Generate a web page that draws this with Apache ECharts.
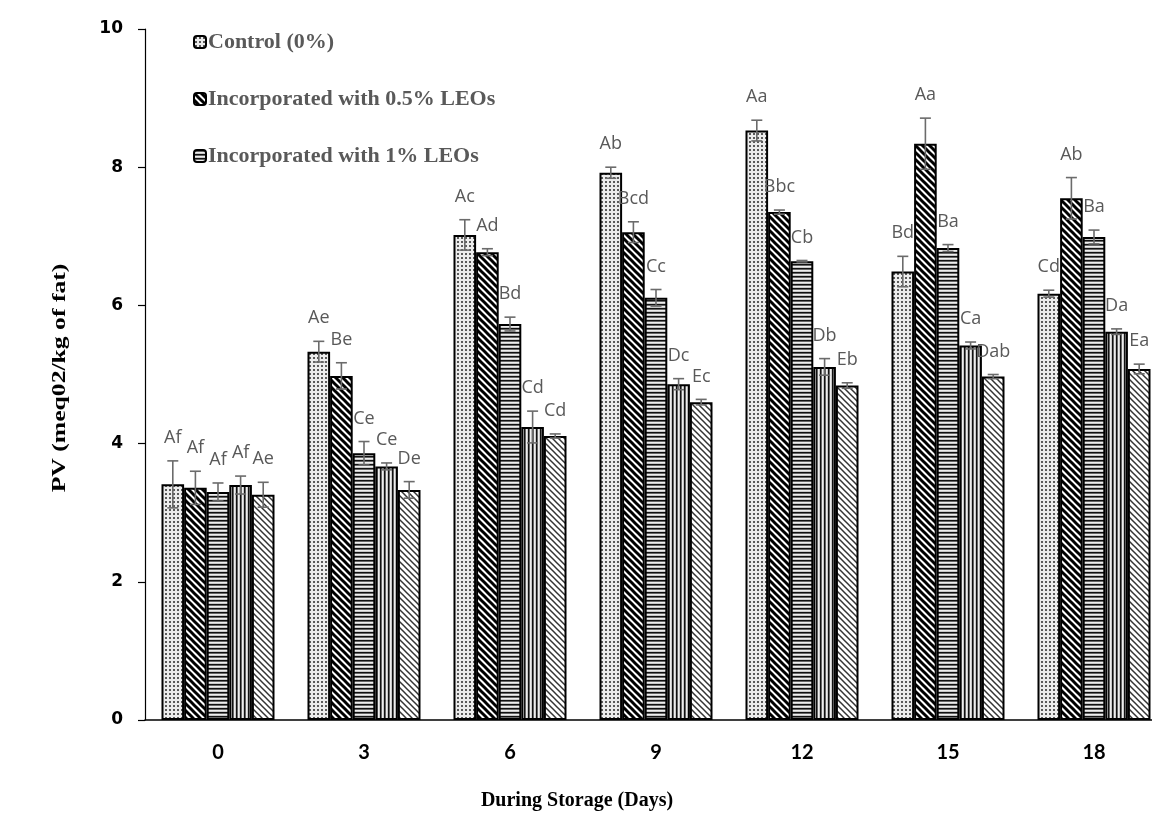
<!DOCTYPE html>
<html>
<head>
<meta charset="utf-8">
<script src="https://cdn.jsdelivr.net/npm/echarts@6/dist/echarts.min.js"></script>
<style>html,body{margin:0;padding:0;background:#fff;overflow:hidden;width:1152px;height:836px}#chart{width:1167px;height:836px}</style>
</head>
<body>
<div id="chart"></div>
<script>
// ---- data ----
const categories = ['0', '3', '6', '9', '12', '15', '18'];
const seriesNames = ['Control (0%)', 'Incorporated with 0.5% LEOs', 'Incorporated with 1% LEOs', 'Incorporated with 1.5% LEOs', 'Incorporated with 2% LEOs'];
const control = [3.41, 5.33, 7.02, 7.92, 8.53, 6.49, 6.17];
const leo05   = [3.36, 4.98, 6.77, 7.06, 7.35, 8.34, 7.55];
const leo1    = [3.30, 3.86, 5.73, 6.11, 6.64, 6.83, 6.99];
const leo15   = [3.40, 3.67, 4.24, 4.86, 5.11, 5.42, 5.62];
const leo2    = [3.26, 3.33, 4.11, 4.60, 4.84, 4.97, 5.08];
const controlErr = [0.34, 0.15, 0.22, 0.08, 0.15, 0.22, 0.05];
const leo05Err   = [0.24, 0.19, 0.05, 0.15, 0.03, 0.37, 0.30];
const leo1Err    = [0.13, 0.17, 0.10, 0.12, 0.01, 0.05, 0.10];
const leo15Err   = [0.13, 0.05, 0.23, 0.08, 0.12, 0.05, 0.04];
const leo2Err    = [0.18, 0.12, 0.03, 0.04, 0.04, 0.03, 0.07];
const controlLbl = ['Af', 'Ae', 'Ac', 'Ab', 'Aa', 'Bd', 'Cd'];
const leo05Lbl   = ['Af', 'Be', 'Ad', 'Bcd', 'Bbc', 'Aa', 'Ab'];
const leo1Lbl    = ['Af', 'Ce', 'Bd', 'Cc', 'Cb', 'Ba', 'Ba'];
const leo15Lbl   = ['Af', 'Ce', 'Cd', 'Dc', 'Db', 'Ca', 'Da'];
const leo2Lbl    = ['Ae', 'De', 'Cd', 'Ec', 'Eb', 'Dab', 'Ea'];
const yTicks = [0, 2, 4, 6, 8, 10];

const values = [control, leo05, leo1, leo15, leo2];
const errors = [controlErr, leo05Err, leo1Err, leo15Err, leo2Err];
const letters = [controlLbl, leo05Lbl, leo1Lbl, leo15Lbl, leo2Lbl];

// ---- patterns ----
function tile(w, h, draw) {
  const c = document.createElement('canvas');
  c.width = w; c.height = h;
  const ctx = c.getContext('2d');
  draw(ctx, w, h);
  return { image: c, repeat: 'repeat' };
}
const patDots = tile(4, 4, (ctx) => {
  ctx.fillStyle = '#ececec'; ctx.fillRect(0, 0, 4, 4);
  ctx.fillStyle = '#5a5a5a'; ctx.fillRect(1, 1, 2, 2);
});
function diag(period, lw, color, bg) {
  return tile(period, period, (ctx, w) => {
    ctx.fillStyle = bg; ctx.fillRect(0, 0, w, w);
    ctx.strokeStyle = color; ctx.lineWidth = lw;
    for (let k = -w; k <= w; k += w) {
      ctx.beginPath(); ctx.moveTo(k - 2, -2); ctx.lineTo(k + w + 2, w + 2); ctx.stroke();
    }
  });
}
const patDiagBold = diag(7, 3.0, '#000', '#fff');
const patDiagThin = diag(6, 1.5, '#333', '#fff');
const patHoriz = tile(4, 4, (ctx) => {
  const rows = ['#111', '#666', '#eee', '#c8c8c8'];
  rows.forEach((c, i) => { ctx.fillStyle = c; ctx.fillRect(0, i, 4, 1); });
});
const patVert = tile(4, 4, (ctx) => {
  const cols = ['#111', '#666', '#eee', '#c8c8c8'];
  cols.forEach((c, i) => { ctx.fillStyle = c; ctx.fillRect(i, 0, 1, 4); });
});
const patterns = [patDots, patDiagBold, patHoriz, patVert, patDiagThin];

const CAT_GAP = 0.226;
const barSeries = values.map((vals, i) => ({
  name: seriesNames[i],
  type: 'bar',
  data: vals,
  barGap: '0%',
  barCategoryGap: (CAT_GAP * 100) + '%',
  itemStyle: { color: patterns[i], borderColor: '#000', borderWidth: 2 },
  emphasis: { disabled: true },
  z: 2
}));

const errData = [];
const errLabels = [];
values.forEach((vals, si) => {
  vals.forEach((v, ci) => {
    errData.push([ci, si, v, errors[si][ci]]);
    errLabels.push(letters[si][ci]);
  });
});

const errSeries = {
  type: 'custom',
  data: errData,
  encode: { x: 0, y: 2 },
  z: 5,
  silent: true,
  clip: false,
  renderItem: function (params, api) {
    const ci = api.value(0), si = api.value(1), v = api.value(2), e = api.value(3);
    const band = api.size([1, 0])[0];
    const bw = band * (1 - CAT_GAP) / 5;
    const c = api.coord([ci, v]);
    const x = c[0] + (si - 2) * bw;
    const yt = api.coord([ci, v + e])[1];
    const yb = api.coord([ci, v - e])[1];
    const cap = 5.5;
    const st = { stroke: '#6b6b6b', lineWidth: 1.6 };
    return {
      type: 'group',
      children: [
        { type: 'line', shape: { x1: x, y1: yt, x2: x, y2: yb }, style: st },
        { type: 'line', shape: { x1: x - cap, y1: yt, x2: x + cap, y2: yt }, style: st },
        { type: 'line', shape: { x1: x - cap, y1: yb, x2: x + cap, y2: yb }, style: st },
        { type: 'text', x: x, y: yt - 23, style: {
            text: errLabels[params.dataIndex], fill: '#595959',
            font: '18px "Open Sans", "Noto Sans", sans-serif',
            align: 'center', verticalAlign: 'middle' } }
      ]
    };
  }
};

const chart = echarts.init(document.getElementById('chart'), null, { renderer: 'canvas' });
chart.setOption({
  animation: false,
  backgroundColor: '#fff',
  grid: { left: 145, right: 0, top: 29, bottom: 116, containLabel: false },
  legend: {
    data: seriesNames.slice(0, 3),
    orient: 'vertical',
    left: 188, top: 26,
    itemWidth: 12, itemHeight: 12, itemGap: 35,
    selectedMode: false,
    textStyle: { fontFamily: '"Liberation Serif", "Times New Roman", serif', fontWeight: 'bold', fontSize: 22, color: '#595959', padding: [0, 0, 0, -3] }
  },
  xAxis: {
    type: 'category',
    data: categories,
    axisLine: { show: true, lineStyle: { color: '#000', width: 1.5 } },
    axisTick: { show: false },
    axisLabel: { margin: 23, color: '#000', fontSize: 20, fontWeight: 'bold', fontFamily: '"Liberation Sans Narrow", Lato, sans-serif' },
    splitLine: { show: false }
  },
  yAxis: {
    type: 'value',
    min: yTicks[0], max: yTicks[yTicks.length - 1], interval: 2,
    axisLine: { show: true, lineStyle: { color: '#000', width: 1.2 } },
    axisTick: { show: true, length: 7, lineStyle: { color: '#000', width: 1.2 } },
    axisLabel: { margin: 22, color: '#000', fontSize: 17, fontWeight: 'bold', fontFamily: '"DejaVu Sans", sans-serif' },
    splitLine: { show: false }
  },
  graphic: [
    { type: 'text', x: 60, y: 378, rotation: Math.PI / 2, scaleX: 1.35,
      style: { text: 'PV (meq02/kg of fat)', fill: '#000', font: 'bold 19px "Liberation Serif", serif', align: 'center', verticalAlign: 'middle' } },
    { type: 'text', x: 577, y: 801,
      style: { text: 'During Storage (Days)', fill: '#000', font: 'bold 20px "Liberation Serif", serif', align: 'center', verticalAlign: 'middle' } }
  ],
  series: barSeries.concat([errSeries])
});
</script>
</body>
</html>
